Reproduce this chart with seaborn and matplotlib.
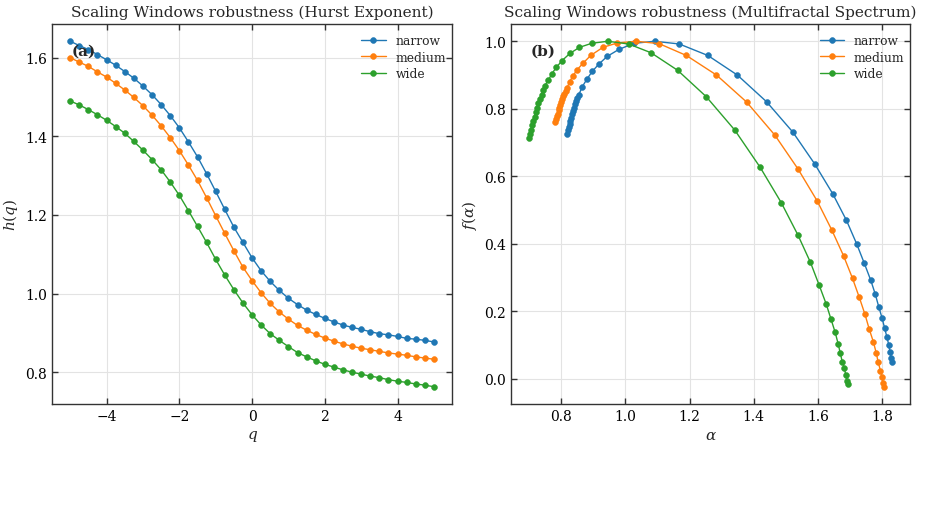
import numpy as np
import pandas as pd
import seaborn as sns
import matplotlib
matplotlib.use("Agg")
import matplotlib.pyplot as plt

# ---- data ----
windows = ["narrow", "medium", "wide"]
colors = ["#1f77b4", "#ff7f0e", "#2ca02c"]

q = [-5.0, -4.75, -4.5, -4.25, -4.0, -3.75, -3.5, -3.25, -3.0, -2.75, -2.5, -2.25, -2.0, -1.75, -1.5, -1.25, -1.0,
     -0.75, -0.5, -0.25, 0.0, 0.25, 0.5, 0.75, 1.0, 1.25, 1.5, 1.75, 2.0, 2.25, 2.5, 2.75, 3.0, 3.25, 3.5, 3.75,
     4.0, 4.25, 4.5, 4.75, 5.0]

h_narrow = [1.642, 1.631, 1.621, 1.608, 1.595, 1.581, 1.565, 1.548, 1.528, 1.506, 1.481, 1.453, 1.422, 1.386, 1.348,
            1.305, 1.260, 1.214, 1.169, 1.130, 1.091, 1.058, 1.031, 1.008, 0.988, 0.972, 0.958, 0.947, 0.937, 0.928,
            0.920, 0.914, 0.909, 0.903, 0.898, 0.895, 0.891, 0.886, 0.884, 0.881, 0.877]
h_medium = [1.600, 1.589, 1.578, 1.564, 1.551, 1.535, 1.518, 1.499, 1.478, 1.454, 1.427, 1.397, 1.364, 1.327, 1.288,
            1.244, 1.198, 1.153, 1.109, 1.067, 1.033, 1.002, 0.975, 0.953, 0.935, 0.919, 0.907, 0.896, 0.887, 0.879,
            0.872, 0.866, 0.861, 0.857, 0.853, 0.849, 0.846, 0.843, 0.839, 0.836, 0.833]
h_wide = [1.490, 1.480, 1.468, 1.455, 1.441, 1.425, 1.408, 1.387, 1.365, 1.341, 1.315, 1.284, 1.250, 1.211, 1.171,
          1.130, 1.087, 1.047, 1.010, 0.976, 0.946, 0.920, 0.898, 0.881, 0.865, 0.850, 0.839, 0.829, 0.820, 0.813,
          0.806, 0.800, 0.795, 0.790, 0.786, 0.781, 0.777, 0.774, 0.770, 0.767, 0.763]

alpha_narrow = [1.832, 1.829, 1.825, 1.821, 1.815, 1.808, 1.800, 1.790, 1.779, 1.765, 1.745, 1.721, 1.689, 1.646,
                1.590, 1.522, 1.440, 1.349, 1.257, 1.168, 1.091, 1.027, 0.980, 0.943, 0.917, 0.897, 0.881, 0.866,
                0.855, 0.850, 0.846, 0.842, 0.839, 0.836, 0.833, 0.830, 0.828, 0.826, 0.824, 0.821, 0.819]
f_narrow = [0.050, 0.063, 0.080, 0.101, 0.125, 0.151, 0.181, 0.213, 0.251, 0.292, 0.342, 0.400, 0.470, 0.549, 0.637,
            0.731, 0.821, 0.900, 0.958, 0.992, 1.000, 0.994, 0.976, 0.955, 0.932, 0.911, 0.889, 0.866, 0.842, 0.832,
            0.823, 0.813, 0.803, 0.794, 0.784, 0.774, 0.765, 0.755, 0.745, 0.736, 0.726]

alpha_medium = [1.805, 1.803, 1.800, 1.795, 1.788, 1.782, 1.773, 1.760, 1.747, 1.729, 1.708, 1.680, 1.644, 1.598,
                1.538, 1.466, 1.378, 1.284, 1.190, 1.105, 1.034, 0.975, 0.930, 0.892, 0.869, 0.850, 0.836, 0.826,
                0.818, 0.814, 0.810, 0.806, 0.803, 0.800, 0.797, 0.794, 0.792, 0.790, 0.787, 0.784, 0.782]
f_medium = [-0.023, -0.012, 0.005, 0.025, 0.050, 0.077, 0.110, 0.148, 0.191, 0.242, 0.298, 0.365, 0.440, 0.527, 0.622,
            0.722, 0.820, 0.900, 0.958, 0.993, 1.000, 0.995, 0.982, 0.958, 0.936, 0.916, 0.897, 0.879, 0.862, 0.854,
            0.845, 0.837, 0.828, 0.820, 0.812, 0.803, 0.795, 0.786, 0.778, 0.769, 0.761]

alpha_wide = [1.693, 1.691, 1.687, 1.683, 1.676, 1.670, 1.663, 1.654, 1.641, 1.626, 1.604, 1.577, 1.538, 1.486,
              1.420, 1.341, 1.252, 1.163, 1.080, 1.010, 0.945, 0.895, 0.857, 0.827, 0.803, 0.785, 0.771, 0.760,
              0.749, 0.744, 0.739, 0.734, 0.729, 0.725, 0.721, 0.717, 0.713, 0.710, 0.706, 0.703, 0.700]
f_wide = [-0.015, -0.006, 0.011, 0.031, 0.051, 0.076, 0.105, 0.138, 0.177, 0.222, 0.278, 0.345, 0.426, 0.522, 0.627,
          0.737, 0.836, 0.914, 0.966, 0.992, 1.000, 0.994, 0.982, 0.964, 0.943, 0.923, 0.904, 0.885, 0.869, 0.855,
          0.842, 0.829, 0.816, 0.803, 0.790, 0.777, 0.764, 0.751, 0.738, 0.725, 0.713]

titles = ["Scaling Windows robustness (Hurst Exponent)", "Scaling Windows robustness (Multifractal Spectrum)"]
panel_labels = ["(a)", "(b)"]

# ---- tidy frames ----
rows_h, rows_f = [], []
for w, h, a, f in zip(windows, [h_narrow, h_medium, h_wide], [alpha_narrow, alpha_medium, alpha_wide],
                      [f_narrow, f_medium, f_wide]):
    for i in range(len(q)):
        rows_h.append({"q": q[i], "h": h[i], "window": w, "idx": i})
        rows_f.append({"alpha": a[i], "f": f[i], "window": w, "idx": i})
df_h = pd.DataFrame(rows_h)
df_f = pd.DataFrame(rows_f)

# ---- style ----
sns.set_theme(style="whitegrid")
plt.rcParams.update({
    "font.family": ["DejaVu Serif"],
    "mathtext.fontset": "dejavuserif",
    "axes.edgecolor": "#333333",
    "axes.linewidth": 1.0,
    "axes.facecolor": "white",
    "grid.color": "#e3e3e3",
    "grid.linewidth": 0.8,
    "xtick.direction": "in",
    "ytick.direction": "in",
    "xtick.top": True,
    "ytick.right": True,
    "xtick.bottom": True,
    "ytick.left": True,
    "xtick.major.size": 4,
    "ytick.major.size": 4,
    "xtick.major.width": 1.0,
    "ytick.major.width": 1.0,
    "xtick.color": "#333333",
    "ytick.color": "#333333",
    "xtick.labelcolor": "black",
    "ytick.labelcolor": "black",
    "xtick.labelsize": 10,
    "ytick.labelsize": 10,
})

fig = plt.figure(figsize=(9.26, 5.06), dpi=100)
ax1 = fig.add_axes([0.0562, 0.1996, 0.432, 0.751])
ax2 = fig.add_axes([0.5518, 0.1996, 0.4314, 0.751])

palette = dict(zip(windows, colors))
line_kws = dict(marker="o", markersize=4.2, linewidth=1.0, markeredgewidth=0.4, estimator=None)

sns.lineplot(data=df_h, x="q", y="h", hue="window", hue_order=windows, palette=palette, ax=ax1,
             sort=False, units="window", **line_kws)
sns.lineplot(data=df_f, x="alpha", y="f", hue="window", hue_order=windows, palette=palette, ax=ax2,
             sort=False, units="window", **line_kws)

for line in ax1.lines + ax2.lines:
    line.set_markeredgecolor(line.get_color())

ax1.set_xlabel("$q$", fontsize=11)
ax1.set_ylabel("$h(q)$", fontsize=11)
ax2.set_xlabel(r"$\alpha$", fontsize=11)
ax2.set_ylabel(r"$f(\alpha)$", fontsize=11)

for ax, t, pl in zip([ax1, ax2], titles, panel_labels):
    ax.set_title(t, fontsize=11.1, pad=6)
    ax.text(0.05, 0.93, pl, transform=ax.transAxes, fontsize=11, fontweight="bold", ha="left", va="center")
    ax.margins(x=0.05, y=0.05)
    ax.grid(True)
    for s in ax.spines.values():
        s.set_visible(True)
        s.set_color("#333333")
    leg = ax.legend(loc="upper right", bbox_to_anchor=(1.0125, 1.003), frameon=False, fontsize=8.8,
                    handlelength=2.0, borderaxespad=0.5, labelspacing=0.3)
    for lh in leg.get_lines():
        lh.set_markeredgecolor(lh.get_color())

ax1.set_xticks([-4, -2, 0, 2, 4])
ax1.set_yticks([0.8, 1.0, 1.2, 1.4, 1.6])
ax2.set_xticks([0.8, 1.0, 1.2, 1.4, 1.6, 1.8])
ax2.set_yticks([0.0, 0.2, 0.4, 0.6, 0.8, 1.0])

fig.savefig("out.png", dpi=100)
